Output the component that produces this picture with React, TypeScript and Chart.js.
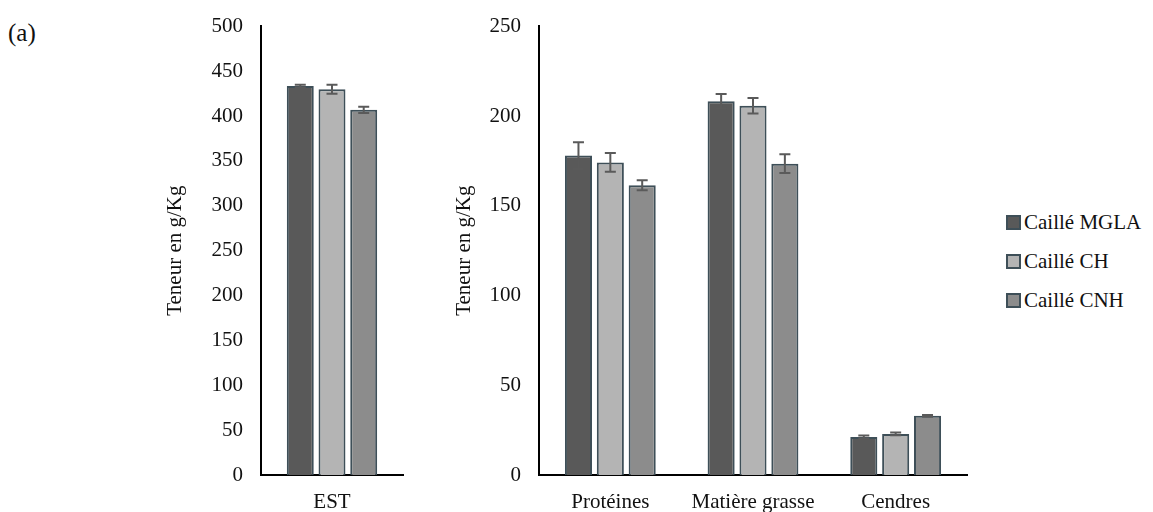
import React, { useEffect, useRef } from 'react';
import { Chart, registerables } from 'chart.js';

Chart.register(...registerables);

const seriesNames = ['Caillé MGLA', 'Caillé CH', 'Caillé CNH'];
const seriesColors = ['#595959', '#b4b4b4', '#8c8c8c'];
const borderColor = '#3e4f58';

const leftCategories = ['EST'];
const estMGLA = [433.5];
const estCH = [430];
const estCNH = [407];
const estErrMGLA = [1.5];
const estErrCH = [5];
const estErrCNH = [3.5];
const leftTicks = [0, 50, 100, 150, 200, 250, 300, 350, 400, 450, 500];

const rightCategories = ['Protéines', 'Matière grasse', 'Cendres'];
const compMGLA = [178, 208.3, 21.2];
const compCH = [174.2, 205.8, 22.9];
const compCNH = [161.5, 173.5, 33];
const compErrMGLA = [7.5, 4, 0.8];
const compErrCH = [5.2, 4.3, 0.8];
const compErrCNH = [2.8, 5.2, 0.5];
const rightTicks = [0, 50, 100, 150, 200, 250];

const FONT = '"Liberation Serif", "Times New Roman", serif';
Chart.defaults.font.family = FONT;
Chart.defaults.color = '#222';

const errorBarPlugin = {
  id: 'errorBars',
  afterDatasetsDraw(chart: any) {
    const ctx = chart.ctx;
    const yScale = chart.scales.y;
    ctx.save();
    ctx.strokeStyle = '#5a5a5a';
    ctx.lineWidth = 2;
    chart.data.datasets.forEach((ds: any, i: number) => {
      const meta = chart.getDatasetMeta(i);
      const errs = ds.errors || [];
      meta.data.forEach((el: any, j: number) => {
        const v = ds.data[j];
        const e = errs[j] || 0;
        const yHi = yScale.getPixelForValue(v + e);
        const yLo = yScale.getPixelForValue(v - e);
        const x = el.x;
        const cap = 5.5;
        ctx.beginPath();
        ctx.moveTo(x, yHi);
        ctx.lineTo(x, yLo);
        ctx.moveTo(x - cap, yHi);
        ctx.lineTo(x + cap, yHi);
        ctx.moveTo(x - cap, yLo);
        ctx.lineTo(x + cap, yLo);
        ctx.stroke();
      });
    });
    ctx.restore();
  },
};

function makeConfig(
  labels: string[],
  values: number[][],
  errors: number[][],
  ticks: number[],
  yWidth: number,
  titlePad: number,
  rightPad: number
): any {
  const max = ticks[ticks.length - 1];
  const step = ticks[1] - ticks[0];
  return {
    type: 'bar',
    data: {
      labels,
      datasets: values.map((vals, i) => ({
        label: seriesNames[i],
        data: vals,
        errors: errors[i],
        backgroundColor: seriesColors[i],
        borderColor: borderColor,
        borderWidth: 2,
        categoryPercentage: 0.67,
        barPercentage: 0.85,
      })),
    },
    options: {
      responsive: false,
      animation: false,
      layout: { padding: { top: 23, bottom: 0, left: 0, right: rightPad } },
      plugins: {
        legend: { display: false },
        tooltip: { enabled: false },
      },
      scales: {
        x: {
          grid: { display: false, drawTicks: false },
          border: { display: true, color: '#000', width: 2 },
          ticks: { padding: 15, font: { size: 21, family: FONT }, color: '#111' },
          afterFit(scale: any) {
            scale.height = 37;
          },
        },
        y: {
          min: 0,
          max,
          grid: { display: false, drawTicks: false },
          border: { display: true, color: '#000', width: 2 },
          ticks: {
            stepSize: step,
            padding: 18,
            font: { size: 21, family: FONT, lineHeight: 0.8 },
            color: '#111',
          },
          title: {
            display: true,
            text: 'Teneur en g/Kg',
            font: { size: 21, family: FONT },
            color: '#111',
            padding: { top: titlePad, bottom: 0 },
          },
          afterFit(scale: any) {
            scale.width = yWidth;
          },
        },
      },
    },
    plugins: [errorBarPlugin],
  };
}

function BarChart(props: {
  left: number;
  width: number;
  labels: string[];
  values: number[][];
  errors: number[][];
  ticks: number[];
  yWidth: number;
  titlePad: number;
  rightPad: number;
}) {
  const ref = useRef<HTMLCanvasElement>(null);
  useEffect(() => {
    if (!ref.current) return;
    const chart = new Chart(
      ref.current,
      makeConfig(props.labels, props.values, props.errors, props.ticks, props.yWidth, props.titlePad, props.rightPad)
    );
    return () => chart.destroy();
  }, []);
  return (
    <div style={{ position: 'absolute', left: props.left, top: 0, width: props.width, height: 512 }}>
      <canvas ref={ref} width={props.width} height={512} style={{ display: 'block' }} />
    </div>
  );
}

export default function App() {
  return (
    <div
      style={{
        position: 'absolute',
        left: 0,
        top: 0,
        width: 1153,
        height: 512,
        background: '#fff',
        fontFamily: FONT,
        color: '#111',
      }}
    >
      <div style={{ position: 'absolute', left: 8, top: 19, fontSize: 25, lineHeight: '28px' }}>(a)</div>
      <BarChart
        left={140}
        width={273}
        labels={leftCategories}
        values={[estMGLA, estCH, estCNH]}
        errors={[estErrMGLA, estErrCH, estErrCNH]}
        ticks={leftTicks}
        yWidth={121}
        titlePad={23}
        rightPad={10}
      />
      <BarChart
        left={425}
        width={550}
        labels={rightCategories}
        values={[compMGLA, compCH, compCNH]}
        errors={[compErrMGLA, compErrCH, compErrCNH]}
        ticks={rightTicks}
        yWidth={114}
        titlePad={27}
        rightPad={8}
      />
      {seriesNames.map((name, i) => (
        <div
          key={name}
          style={{
            position: 'absolute',
            left: 1006,
            top: 209 + i * 39,
            height: 26,
            display: 'flex',
            alignItems: 'center',
            fontSize: 21,
            whiteSpace: 'nowrap',
          }}
        >
          <span
            style={{
              display: 'inline-block',
              width: 11,
              height: 11,
              background: seriesColors[i],
              border: `2px solid ${borderColor}`,
              marginRight: 3,
            }}
          />
          <span>{name}</span>
        </div>
      ))}
    </div>
  );
}
